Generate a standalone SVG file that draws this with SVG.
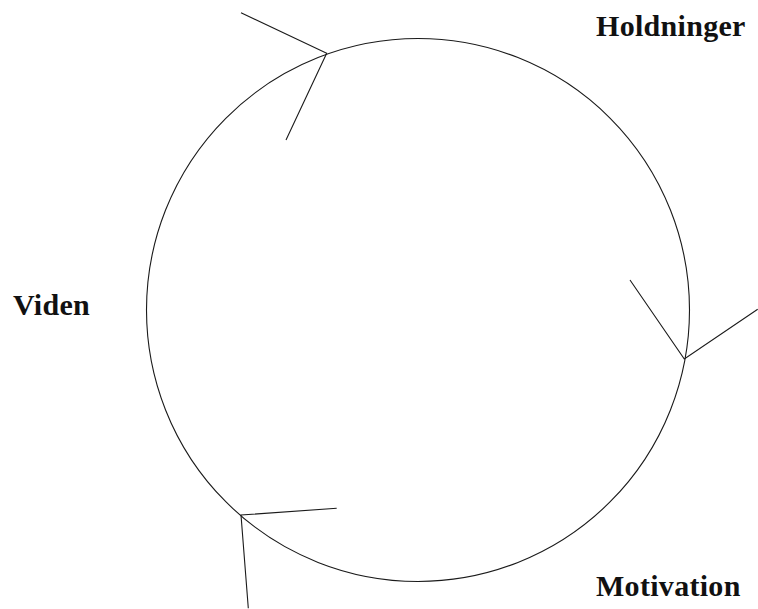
<svg xmlns="http://www.w3.org/2000/svg" width="758" height="609" viewBox="0 0 758 609">
<style>
.l{fill:none;stroke:#1a1a1a;stroke-width:1.1}
.t{font-family:"Liberation Serif","Times New Roman",serif;font-weight:bold;font-size:30px;letter-spacing:0.3px;fill:#111}
</style>
<rect width="758" height="609" fill="#fff"/>
<g id="cycle">
<circle class="l" cx="418" cy="310" r="271.5"/>
</g>
<g id="connectors">
<polyline class="l" points="241,12.7 326.7,53.3 286,140"/>
<polyline class="l" points="630,280 684.3,359 757.7,309.3"/>
<polyline class="l" points="336.7,508.3 241,515 248.3,608.3"/>
</g>
<g id="holdninger"><text class="t" x="596" y="36">Holdninger</text></g>
<g id="viden"><text class="t" x="13" y="315">Viden</text></g>
<g id="motivation"><text class="t" x="596" y="596">Motivation</text></g>
</svg>
